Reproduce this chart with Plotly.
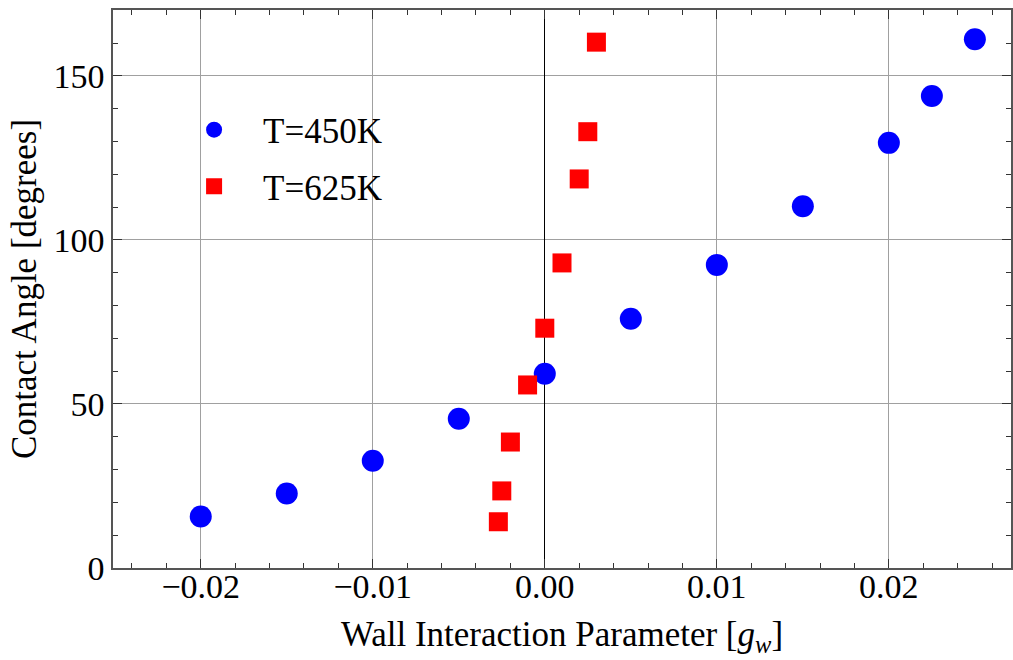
import plotly.graph_objects as go

# Data
gw_450 = [-0.02, -0.015, -0.01, -0.005, 0.0, 0.005, 0.01, 0.015, 0.02, 0.0225, 0.025]
angle_450 = [15.7, 22.7, 32.7, 45.5, 59.2, 76.0, 92.4, 110.3, 129.6, 143.9, 161.2]

gw_625 = [-0.0027, -0.0025, -0.0020, -0.0010, 0.0, 0.001, 0.002, 0.0025, 0.003]
angle_625 = [14.1, 23.5, 38.4, 55.8, 73.1, 93.0, 118.6, 133.0, 160.3]

x_ticks = [-0.02, -0.01, 0.0, 0.01, 0.02]
x_ticklabels = ["\u22120.02", "\u22120.01", "0.00", "0.01", "0.02"]
y_ticks = [0, 50, 100, 150]

FONT = "Liberation Serif, Times New Roman, serif"

fig = go.Figure()
fig.add_trace(go.Scatter(
    x=gw_450, y=angle_450, mode="markers", name="T=450K",
    marker=dict(symbol="circle", size=22, color="#0000ff", line=dict(width=0)),
    legendgroup="a",
))
fig.add_trace(go.Scatter(
    x=gw_625, y=angle_625, mode="markers", name="T=625K",
    marker=dict(symbol="square", size=19, color="#ff0000", line=dict(width=0)),
    legendgroup="b",
))

axis_common = dict(
    showline=True, linecolor="#555555", linewidth=1.5, mirror="allticks",
    ticks="inside", tickcolor="#333333", tickwidth=1,
    showgrid=True, gridcolor="#a0a0a0", gridwidth=1,
    tickfont=dict(family=FONT, size=34, color="black"),
)

fig.update_xaxes(
    **axis_common,
    range=[-0.0251, 0.0271],
    tickvals=x_ticks, ticktext=x_ticklabels, ticklen=9,
    ticklabelstandoff=-13,
    minor=dict(dtick=0.002, ticklen=5, ticks="inside", tickcolor="#333333", showgrid=False),
    zeroline=True, zerolinecolor="black", zerolinewidth=1.2,
    title=dict(text="Wall Interaction Parameter [<i>g</i><sub><i>w</i></sub>]",
               font=dict(family=FONT, size=35, color="black"), standoff=18),
)
fig.update_yaxes(
    **axis_common,
    range=[0, 170.1],
    tickvals=y_ticks, ticklen=9,
    minor=dict(dtick=10, ticklen=5, ticks="inside", tickcolor="#333333", showgrid=False),
    zeroline=False,
    title=dict(text="Contact Angle [degrees]",
               font=dict(family=FONT, size=35, color="black"), standoff=6),
)

fig.update_layout(
    width=1013, height=660,
    margin=dict(l=113, r=0, t=10, b=92),
    paper_bgcolor="white", plot_bgcolor="white",
    showlegend=True,
    legend=dict(
        x=0.058, y=0.838, xanchor="left", yanchor="top",
        bgcolor="rgba(0,0,0,0)", borderwidth=0,
        font=dict(family=FONT, size=35, color="black"),
        itemwidth=88, traceorder="grouped", tracegroupgap=8,
    ),
)

fig.write_html("out.html")
